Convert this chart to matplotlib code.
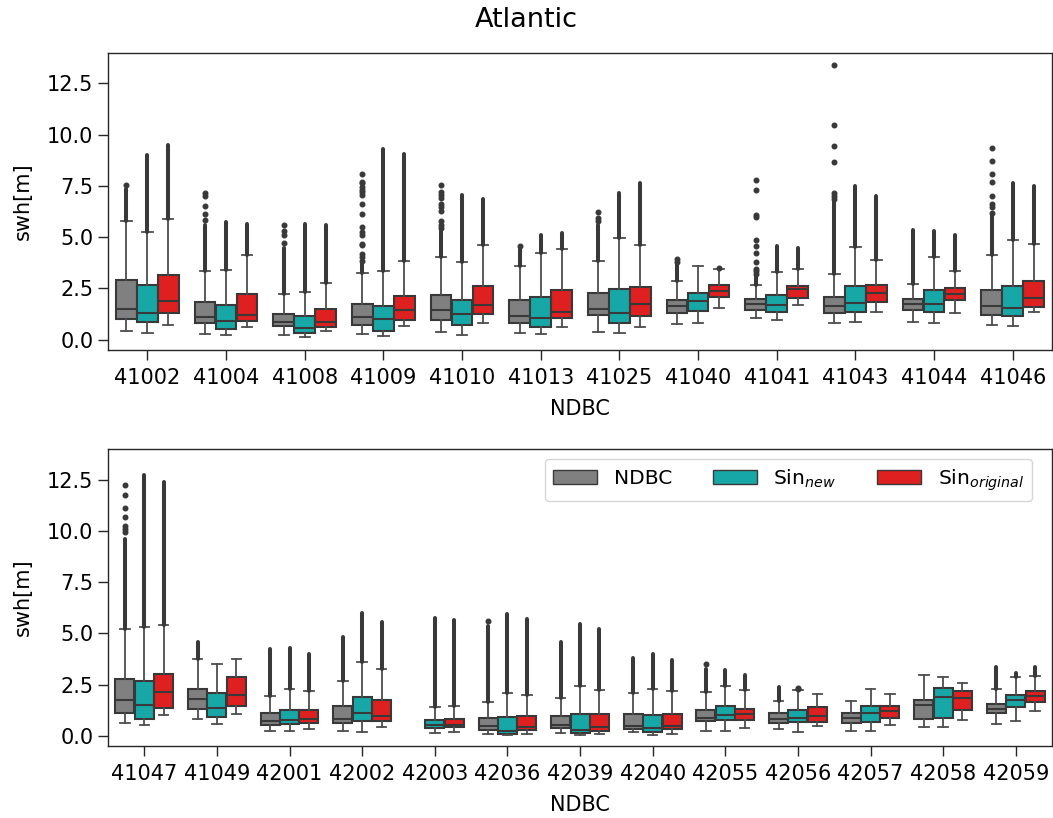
import matplotlib
matplotlib.use('Agg')
import matplotlib.pyplot as plt
from matplotlib.patches import Patch

top_stations = ['41002', '41004', '41008', '41009', '41010', '41013',
                '41025', '41040', '41041', '41043', '41044', '41046']
bottom_stations = ['41047', '41049', '42001', '42002', '42003', '42036', '42039',
                   '42040', '42055', '42056', '42057', '42058', '42059']

series_names = ['NDBC', 'Sin$_{new}$', 'Sin$_{original}$']
series_colors = ['#808080', '#18a7a7', '#df2020']

# one row per station:
# (whisker low, q1, median, q3, whisker high, top of the dense run of outliers)
top_ndbc = [
    (0.45, 1.01, 1.52, 2.91, 5.79, 7.35),
    (0.28, 0.83, 1.12, 1.86, 3.36, 5.60),
    (0.24, 0.65, 0.85, 1.27, 2.21, 4.45),
    (0.26, 0.70, 1.10, 1.74, 3.24, 3.70),
    (0.36, 0.94, 1.43, 2.18, 4.03, 5.30),
    (0.31, 0.81, 1.14, 1.95, 3.60, 4.40),
    (0.39, 1.20, 1.51, 2.28, 3.82, 5.60),
    (0.75, 1.29, 1.64, 1.92, 2.85, 3.70),
    (1.06, 1.45, 1.72, 1.97, 2.68, 3.10),
    (0.83, 1.32, 1.66, 2.08, 3.20, 6.70),
    (0.86, 1.45, 1.72, 1.97, 2.73, 5.37),
    (0.71, 1.19, 1.63, 2.41, 4.15, 6.10),
]
top_new = [
    (0.31, 0.88, 1.30, 2.67, 5.27, 9.02),
    (0.21, 0.54, 0.93, 1.71, 3.40, 5.74),
    (0.13, 0.33, 0.59, 1.14, 2.33, 5.62),
    (0.18, 0.44, 1.01, 1.63, 3.33, 9.32),
    (0.23, 0.70, 1.27, 1.95, 3.79, 7.05),
    (0.26, 0.63, 1.04, 2.08, 4.23, 5.11),
    (0.31, 0.83, 1.32, 2.49, 4.96, 7.16),
    (0.84, 1.40, 1.90, 2.29, 3.60, None),
    (0.94, 1.37, 1.67, 2.16, 3.32, 4.59),
    (0.89, 1.37, 1.81, 2.64, 4.52, 7.49),
    (0.80, 1.33, 1.76, 2.44, 4.02, 5.29),
    (0.67, 1.14, 1.56, 2.64, 4.86, 7.66),
]
top_orig = [
    (0.74, 1.30, 1.88, 3.17, 5.87, 9.49),
    (0.62, 0.93, 1.22, 2.21, 4.12, 5.66),
    (0.42, 0.62, 0.86, 1.48, 2.78, 5.58),
    (0.65, 0.98, 1.46, 2.15, 3.86, 9.05),
    (0.80, 1.24, 1.71, 2.62, 4.60, 6.85),
    (0.63, 1.04, 1.35, 2.42, 4.43, 5.18),
    (0.63, 1.17, 1.74, 2.59, 4.60, 7.65),
    (1.54, 2.08, 2.36, 2.65, 3.47, None),
    (1.67, 2.02, 2.47, 2.62, 3.45, 4.46),
    (1.37, 1.86, 2.26, 2.68, 3.89, 7.01),
    (1.30, 1.95, 2.25, 2.52, 3.33, 5.13),
    (1.37, 1.61, 2.02, 2.88, 4.69, 7.49),
]

# isolated outliers above the dense runs
top_ndbc_extra = {
    '41002': [7.52],
    '41004': [7.16, 7.03, 6.51, 6.15, 5.83],
    '41008': [5.58, 5.30, 5.09, 4.73],
    '41009': [8.10, 7.70, 7.62, 7.45, 7.30, 7.21, 7.05, 6.64, 6.15, 5.50,
              5.25, 5.09, 4.69, 4.60, 4.20, 4.04, 3.85],
    '41010': [7.53, 7.20, 7.05, 6.90, 6.60, 6.45, 6.30, 5.80, 5.60, 5.45],
    '41013': [4.59],
    '41025': [6.23, 5.95, 5.80],
    '41040': [3.95, 3.80],
    '41041': [7.78, 7.32, 6.10, 6.00, 4.88, 4.56, 4.23, 3.77, 3.44, 3.34, 3.20],
    '41043': [13.41, 10.45, 9.44, 8.67, 7.15, 7.00, 6.85],
    '41046': [9.36, 8.71, 8.06, 7.71, 7.00, 6.60, 6.45, 6.20],
}
top_new_extra = {}
top_orig_extra = {'41040': [3.52]}

bottom_ndbc = [
    (0.60, 1.10, 1.75, 2.77, 5.22, 9.60),
    (0.84, 1.30, 1.80, 2.30, 3.76, 4.60),
    (0.21, 0.52, 0.70, 1.09, 1.93, 4.22),
    (0.21, 0.62, 0.81, 1.46, 2.69, 4.83),
    None,
    (0.10, 0.29, 0.49, 0.88, 1.67, 5.35),
    (0.13, 0.37, 0.52, 0.96, 1.82, 4.60),
    (0.19, 0.32, 0.50, 1.05, 2.11, 3.81),
    (0.21, 0.71, 0.86, 1.26, 2.14, 3.26),
    (0.31, 0.63, 0.81, 1.09, 1.72, 2.37),
    (0.24, 0.62, 0.88, 1.12, 1.70, None),
    (0.41, 0.83, 1.48, 1.73, 2.97, None),
    (0.57, 1.09, 1.31, 1.56, 2.29, 3.34),
]
bottom_new = [
    (0.52, 0.84, 1.52, 2.66, 5.32, 12.74),
    (0.58, 0.94, 1.38, 2.07, 3.52, None),
    (0.21, 0.57, 0.79, 1.28, 2.30, 4.27),
    (0.16, 0.73, 1.10, 1.90, 3.62, 5.98),
    (0.13, 0.37, 0.55, 0.79, 1.41, 5.76),
    (0.03, 0.07, 0.24, 0.91, 2.09, 5.93),
    (0.03, 0.13, 0.26, 1.05, 2.45, 5.48),
    (0.03, 0.16, 0.39, 1.00, 2.27, 3.97),
    (0.24, 0.76, 1.00, 1.43, 2.43, 3.23),
    (0.19, 0.66, 0.88, 1.26, 2.25, None),
    (0.24, 0.68, 1.12, 1.43, 2.30, None),
    (0.44, 0.88, 1.91, 2.33, 2.89, None),
    (0.71, 1.41, 1.75, 2.01, 2.89, 3.06),
]
bottom_orig = [
    (0.99, 1.36, 2.16, 3.00, 5.40, 12.39),
    (1.05, 1.46, 1.99, 2.87, 3.73, None),
    (0.31, 0.60, 0.81, 1.25, 2.19, 4.00),
    (0.44, 0.71, 0.96, 1.75, 3.24, 5.53),
    (0.19, 0.41, 0.55, 0.84, 1.46, 5.63),
    (0.07, 0.26, 0.42, 0.97, 2.01, 5.71),
    (0.08, 0.24, 0.42, 1.05, 2.24, 5.20),
    (0.07, 0.32, 0.49, 1.05, 2.20, 3.70),
    (0.37, 0.76, 1.05, 1.33, 2.22, 2.97),
    (0.50, 0.68, 0.96, 1.41, 2.06, None),
    (0.55, 0.88, 1.22, 1.46, 2.04, None),
    (0.75, 1.25, 1.85, 2.17, 2.58, None),
    (1.22, 1.64, 1.93, 2.17, 2.90, 3.36),
]

bottom_ndbc_extra = {
    '41047': [12.26, 11.74, 11.12, 10.67, 10.25, 10.10, 9.95],
    '42036': [5.59],
    '42055': [3.49],
}
bottom_new_extra = {'42056': [2.33, 2.30]}
bottom_orig_extra = {}

edge = '#393939'
whisker = '#4d4d4d'
frame = '#262626'


def draw_panel(ax, stations, series, extras):
    width = 0.8 / 3
    for k, (rows, color, extra) in enumerate(zip(series, series_colors, extras)):
        offset = (k - 1) * width
        for i, row in enumerate(rows):
            if row is None:
                continue
            lo, q1, med, q3, hi, run_top = row
            pos = i + offset
            stats = [dict(whislo=lo, q1=q1, med=med, q3=q3, whishi=hi, fliers=[])]
            ax.bxp(stats, positions=[pos], widths=width * 0.98, patch_artist=True,
                   showfliers=False, manage_ticks=False,
                   boxprops=dict(facecolor=color, edgecolor=edge, linewidth=1.5),
                   whiskerprops=dict(color=whisker, linewidth=1.3),
                   capprops=dict(color=whisker, linewidth=1.3),
                   medianprops=dict(color=edge, linewidth=1.5))
            if run_top is not None:
                ax.plot([pos, pos], [hi, run_top], color=edge, linewidth=2.9,
                        solid_capstyle='round')
            vals = extra.get(stations[i], [])
            if vals:
                ax.plot([pos] * len(vals), vals, 'o', ms=3.3, color=edge, mec=edge)

    ax.set_xlim(-0.5, len(stations) - 0.5)
    ax.set_ylim(-0.5, 14.0)
    ax.set_xticks(range(len(stations)))
    ax.set_xticklabels(stations)
    ax.set_yticks([0, 2.5, 5, 7.5, 10, 12.5])
    ax.set_yticklabels(['0.0', '2.5', '5.0', '7.5', '10.0', '12.5'])
    ax.tick_params(length=7, width=1, labelsize=15, color=frame)
    ax.tick_params(axis='x', pad=6)
    for s in ax.spines.values():
        s.set_color(frame)
        s.set_linewidth(1.0)
    ax.set_xlabel('NDBC', fontsize=15, labelpad=8)
    ax.set_ylabel('swh[m]', fontsize=15, labelpad=10)


fig = plt.figure(figsize=(10.53, 8.18), dpi=100)
ax1 = fig.add_axes([0.1026, 0.5721, 0.8965, 0.3637])
ax2 = fig.add_axes([0.1026, 0.0880, 0.8965, 0.3631])

draw_panel(ax1, top_stations, [top_ndbc, top_new, top_orig],
           [top_ndbc_extra, top_new_extra, top_orig_extra])
draw_panel(ax2, bottom_stations, [bottom_ndbc, bottom_new, bottom_orig],
           [bottom_ndbc_extra, bottom_new_extra, bottom_orig_extra])

handles = [Patch(facecolor=c, edgecolor=edge, linewidth=1.0) for c in series_colors]
ax2.legend(handles, series_names, ncol=3, loc='upper right',
           bbox_to_anchor=(0.979, 0.966), borderaxespad=0, fontsize=14.6,
           handlelength=2.2, columnspacing=2.0)

fig.text(0.5, 1 - 20 / 818, 'Atlantic', ha='center', va='center', fontsize=19.5)

fig.savefig('out.png', dpi=100)
